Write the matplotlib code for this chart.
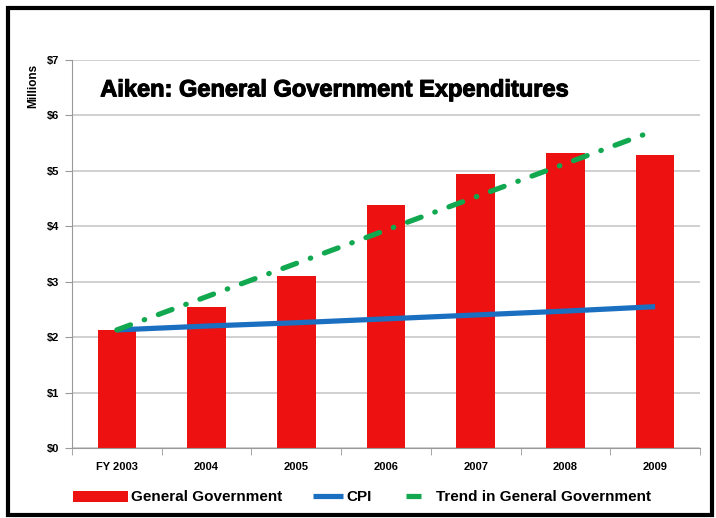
import matplotlib
matplotlib.use("Agg")
import matplotlib.pyplot as plt
from matplotlib.patches import Rectangle
from matplotlib.lines import Line2D
from matplotlib.legend_handler import HandlerBase
import matplotlib.patheffects as pe
import numpy as np

categories = ["FY 2003", "2004", "2005", "2006", "2007", "2008", "2009"]
general_government = [2.13, 2.55, 3.10, 4.39, 4.95, 5.33, 5.28]
cpi = [2.13, 2.20, 2.26, 2.33, 2.40, 2.47, 2.55]
trend = [2.13, 2.73, 3.33, 3.93, 4.53, 5.13, 5.73]
yticks = [0, 1, 2, 3, 4, 5, 6, 7]
ytick_labels = ["$0", "$1", "$2", "$3", "$4", "$5", "$6", "$7"]

RED = "#EE1111"
BLUE = "#1A6FC0"
GREEN = "#11A850"

plt.rcParams['font.family'] = ['Liberation Sans', 'DejaVu Sans']
plt.rcParams['font.weight'] = 'bold'

fig = plt.figure(figsize=(7.16, 5.18), dpi=100)
W, H = 716, 518
ax = fig.add_axes([72 / W, 1 - 448 / H, (700 - 72) / W, (448 - 60) / H])

x = np.arange(len(categories))
bars = ax.bar(x, general_government, width=0.43, color=RED, zorder=2,
              label="General Government")
l_cpi, = ax.plot(x, cpi, color=BLUE, lw=3.75, zorder=3, label="CPI",
                 solid_capstyle="butt")
l_tr, = ax.plot(x, trend, color=GREEN, lw=3.75, zorder=3,
                dashes=(2.8, 2.8, 0.1, 2.8), dash_capstyle='round',
                label="Trend in General Government")

ax.set_xlim(-0.5, len(categories) - 0.5)
ax.set_ylim(0, 7)
ax.set_yticks(yticks)
ax.set_yticklabels(ytick_labels, fontsize=8, fontweight='bold')
ax.set_xticks(x)
ax.set_xticklabels(categories, fontsize=8, fontweight='bold')
ax.tick_params(axis='x', length=0, pad=10)
ax.set_xticks(np.arange(-0.5, len(categories)), minor=True)
ax.tick_params(axis='x', which='minor', length=5, color="#999999")
ax.tick_params(axis='y', length=5, color="#999999", pad=4)
ax.yaxis.grid(True, color="#C8C8C8", lw=1.2, zorder=0)
ax.set_axisbelow(True)
for s in ["top", "right"]:
    ax.spines[s].set_visible(False)
ax.spines["left"].set_color("#999999")
ax.spines["bottom"].set_color("#999999")

ax.text(0.045, 0.923, "Aiken: General Government Expenditures",
        transform=ax.transAxes, fontsize=17, fontweight='bold', va='center',
        path_effects=[pe.Stroke(linewidth=0.8, foreground='black'), pe.Normal()])
fig.text(33 / W, 1 - 86 / H, "Millions", rotation=90, fontsize=8.5,
         fontweight='bold', ha='center', va='center')


class SegHandler(HandlerBase):
    """Draws a legend key occupying part of the handle box (in px from right)."""
    def __init__(self, kind, color, start_px, end_px):
        super().__init__()
        self.kind, self.color = kind, color
        self.start_px, self.end_px = start_px, end_px

    def create_artists(self, legend, orig_handle, xdescent, ydescent,
                       width, height, fontsize, trans):
        px = fig.dpi / 72.0
        x1 = -xdescent + width - self.end_px / px
        x0 = -xdescent + width - self.start_px / px
        mid = -ydescent + height / 2
        if self.kind == 'bar':
            h = 11 / px
            art = Rectangle((x0, mid - h / 2 - 0.5), x1 - x0, h, facecolor=self.color,
                            edgecolor='none', transform=trans)
        else:
            art = Line2D([x0, x1], [mid, mid], color=self.color, lw=3.75,
                         solid_capstyle='butt', transform=trans)
        return [art]


leg = fig.legend([bars, l_cpi, l_tr],
                 ["General Government", "CPI", "Trend in General Government"],
                 loc='center', bbox_to_anchor=(362 / W, 1 - 497 / H),
                 ncol=3, frameon=False, prop={'weight': 'bold', 'size': 11},
                 handlelength=3.6, handletextpad=0.2, columnspacing=0.4,
                 handler_map={bars: SegHandler('bar', RED, 55, 0),
                              l_cpi: SegHandler('line', BLUE, 30, 0),
                              l_tr: SegHandler('line', GREEN, 27, 12)})

fig.patches.append(Rectangle((8 / W, 3 / H), 704 / W, 507 / H, transform=fig.transFigure,
                             fill=False, edgecolor='black', lw=3))

fig.savefig("out.png", dpi=100)
